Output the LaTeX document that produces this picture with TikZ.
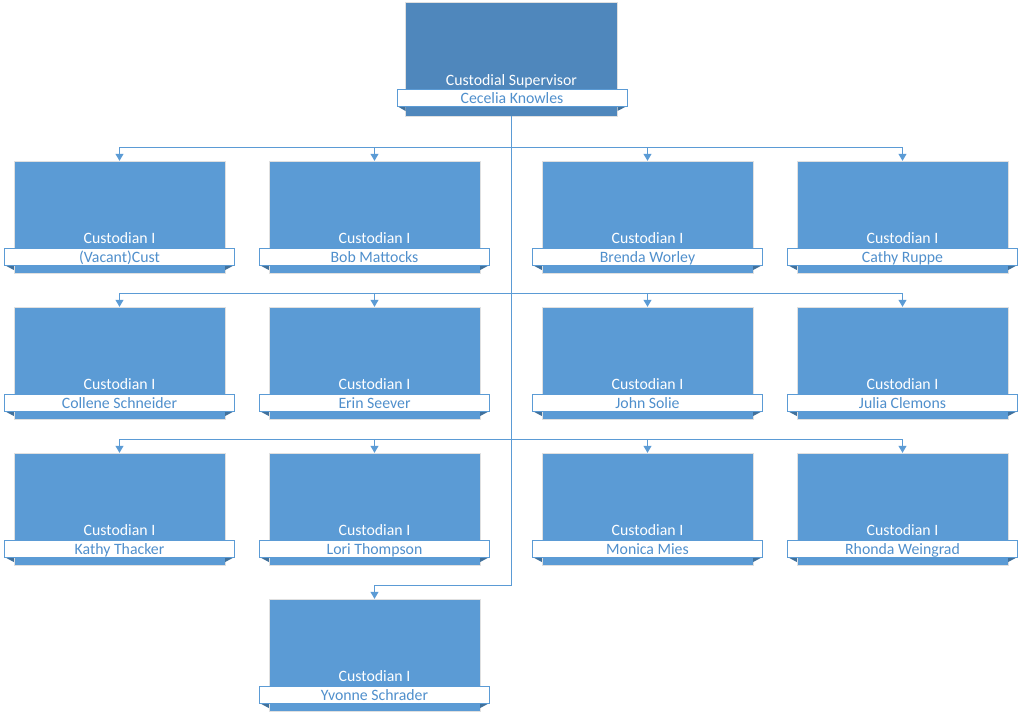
\documentclass[tikz,border=0pt]{standalone}
\usepackage{fontspec}
\setmainfont{Carlito}
\usetikzlibrary{arrows.meta}
\definecolor{cardblue}{HTML}{5B9BD5}
\definecolor{supblue}{HTML}{4F87BC}
\definecolor{foldblue}{HTML}{41719C}
\definecolor{nameblue}{HTML}{4F8FCC}
\begin{document}
\begin{tikzpicture}[x=1pt,y=-1pt,every node/.style={font=\fontsize{15.8}{18}\selectfont},
    cardbox/.style={rectangle,fill=cardblue,draw=black!12,minimum width=211pt,minimum height=112pt,inner sep=0pt},
    supbox/.style={cardbox,fill=supblue,minimum width=212pt,minimum height=114pt},
    cardtitle/.style={text=white,inner sep=0pt,text height=11pt,text depth=3pt},
    namebar/.style={rectangle,fill=white,draw=cardblue,line width=.8pt,text=nameblue,minimum width=230pt,minimum height=17pt,inner sep=0pt,text height=12pt,text depth=2pt},
    fold/.style={fill=foldblue},
    link/.style={draw=cardblue,line width=1pt,-{Triangle[width=8pt,length=7pt]}}]
    \useasboundingbox (0,0) rectangle (1024,721);
    \node[supbox] (sup) at (511.5,59) {};
    \node[cardtitle] at (511.5,81) {Custodial Supervisor};
    \fill[fold] (397,106) -- (405.5,106) -- (405.5,111) -- cycle;
    \fill[fold] (627,106) -- (617.5,106) -- (617.5,111) -- cycle;
    \node[namebar] (knowles) at (512,98) {Cecelia Knowles};
    \foreach \i/\x/\y/\who in {1/119.5/217/{(Vacant)Cust},2/374.5/217/{Bob Mattocks},
        3/647.5/217/{Brenda Worley},4/902.5/217/{Cathy Ruppe},
        5/119.5/363/{Collene Schneider},6/374.5/363/{Erin Seever},
        7/647.5/363/{John Solie},8/902.5/363/{Julia Clemons},
        9/119.5/509/{Kathy Thacker},10/374.5/509/{Lori Thompson},
        11/647.5/509/{Monica Mies},12/902.5/509/{Rhonda Weingrad},
        13/374.5/655/{Yvonne Schrader}}{
      \node[cardbox] (c\i) at (\x,\y) {};
      \node[cardtitle] at (\x,\y+22) {Custodian I};
      \fill[fold] (\x-115,\y+48) -- (c\i.west |- 0,\y+48) -- ++(0,5) -- cycle;
      \fill[fold] (\x+115,\y+48) -- (c\i.east |- 0,\y+48) -- ++(0,5) -- cycle;
      \node[namebar] (n\i) at (\x,\y+40) {\who};
      \draw[link] (sup.south) -- (sup.south |- 0,\y-70) -| (c\i.north);
    }
\end{tikzpicture}
\end{document}
